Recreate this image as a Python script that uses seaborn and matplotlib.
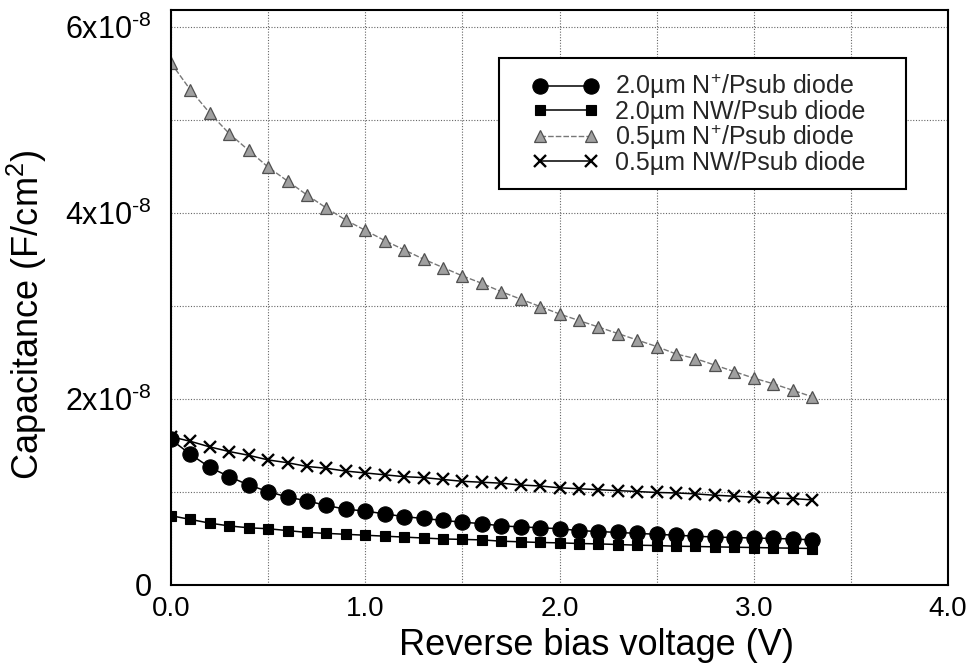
import numpy as np
import pandas as pd
import matplotlib
matplotlib.use("Agg")
import matplotlib.pyplot as plt
from matplotlib.ticker import MultipleLocator, FuncFormatter
from matplotlib.legend_handler import HandlerLine2D
import seaborn as sns

# Reverse bias sweep (V)
voltage = [round(0.1 * i, 1) for i in range(34)]

# Junction capacitance per unit area, in units of 1e-8 F/cm^2
n_plus_20 = [1.56, 1.40, 1.26, 1.16, 1.07, 1.00, 0.94, 0.90, 0.85, 0.81,
             0.79, 0.76, 0.73, 0.71, 0.69, 0.67, 0.655, 0.63, 0.62, 0.61,
             0.60, 0.58, 0.57, 0.56, 0.55, 0.54, 0.53, 0.52, 0.51, 0.505,
             0.50, 0.495, 0.49, 0.48]
nw_20 = [0.74, 0.70, 0.66, 0.63, 0.61, 0.60, 0.58, 0.56, 0.55, 0.54,
         0.53, 0.52, 0.51, 0.50, 0.49, 0.485, 0.48, 0.466, 0.459, 0.452,
         0.448, 0.441, 0.437, 0.430, 0.423, 0.419, 0.412, 0.409, 0.405, 0.401,
         0.398, 0.394, 0.391, 0.387]
n_plus_05 = [5.61, 5.32, 5.07, 4.85, 4.67, 4.49, 4.34, 4.19, 4.05, 3.92,
             3.81, 3.70, 3.60, 3.50, 3.41, 3.32, 3.24, 3.15, 3.07, 2.99,
             2.91, 2.84, 2.77, 2.70, 2.63, 2.56, 2.48, 2.43, 2.36, 2.29,
             2.22, 2.16, 2.09, 2.02]
nw_05 = [1.59, 1.54, 1.48, 1.43, 1.39, 1.34, 1.31, 1.27, 1.25, 1.22,
         1.20, 1.18, 1.16, 1.15, 1.13, 1.11, 1.10, 1.09, 1.07, 1.06,
         1.04, 1.03, 1.02, 1.01, 1.00, 0.99, 0.985, 0.975, 0.96, 0.95,
         0.94, 0.93, 0.925, 0.91]

series_labels = [r"2.0µm N$^{+}$/Psub diode",
                 "2.0µm NW/Psub diode",
                 r"0.5µm N$^{+}$/Psub diode",
                 "0.5µm NW/Psub diode"]

x_tick_labels = ["0.0", "1.0", "2.0", "3.0", "4.0"]

sns.set_theme(style="white")
plt.rcParams["font.family"] = ["Liberation Sans", "DejaVu Sans"]
plt.rcParams["mathtext.fontset"] = "custom"
plt.rcParams["mathtext.rm"] = "Liberation Sans"
plt.rcParams["mathtext.it"] = "Liberation Sans:italic"
plt.rcParams["mathtext.bf"] = "Liberation Sans:bold"

scale = 1e-8
df = pd.DataFrame({
    "V": voltage,
    "n_plus_20": np.array(n_plus_20) * scale,
    "nw_20": np.array(nw_20) * scale,
    "n_plus_05": np.array(n_plus_05) * scale,
    "nw_05": np.array(nw_05) * scale,
})

fig = plt.figure(figsize=(9.72, 6.66), dpi=100)
ax = fig.add_axes([171 / 972, 1 - 584.5 / 666, 777 / 972, 574.5 / 666])

styles = [
    ("n_plus_20", dict(color="black", marker="o", markersize=11, linewidth=1.1,
                       markeredgecolor="black", markeredgewidth=0.8)),
    ("nw_20", dict(color="black", marker="s", markersize=7.5, linewidth=1.1,
                   markeredgecolor="black", markeredgewidth=0.8)),
    ("n_plus_05", dict(color="#777777", marker="^", markersize=9, linewidth=1.0,
                       linestyle=(0, (4, 1.5)), markerfacecolor="#a0a0a0",
                       markeredgecolor="#505050", markeredgewidth=0.9)),
    ("nw_05", dict(color="black", marker="x", markersize=8.5, linewidth=1.1,
                   markeredgecolor="black", markeredgewidth=1.7)),
]

for (col, kw), label in zip(styles, series_labels):
    sns.lineplot(data=df, x="V", y=col, ax=ax, label=label, sort=False, **kw)

ax.set_xlim(0, 4.0)
ax.set_ylim(0, 6.18e-8)

ax.set_xticks([0, 1, 2, 3, 4])
ax.set_xticklabels(x_tick_labels)
ax.xaxis.set_minor_locator(MultipleLocator(0.5))
ax.yaxis.set_major_locator(MultipleLocator(2e-8))
ax.yaxis.set_minor_locator(MultipleLocator(1e-8))


def cap_fmt(v, pos):
    n = int(round(v / scale))
    return "0" if n == 0 else rf"{n}x10$^{{\text{{-}}8}}$"


ax.yaxis.set_major_formatter(FuncFormatter(cap_fmt))

ax.grid(True, which="both", linestyle=(0, (1, 1.5)), color="#666666", linewidth=0.8)
ax.tick_params(axis="both", which="both", length=0, colors="black")
ax.tick_params(axis="y", pad=14, labelsize=22)
ax.tick_params(axis="x", pad=8, labelsize=20)

for s in ax.spines.values():
    s.set_visible(True)
    s.set_color("black")
    s.set_linewidth(1.5)

ax.set_xlabel("Reverse bias voltage (V)", fontsize=26, color="black")
ax.xaxis.set_label_coords(0.547, -0.076)
ax.set_ylabel(r"Capacitance (F/cm$^{2}$)", fontsize=26, color="black")
ax.yaxis.set_label_coords(-0.157, 0.47)

fs = 18
leg = ax.legend(loc="upper left", bbox_to_anchor=(0.422, 0.916, 0.524, 0.0),
                mode="expand", borderaxespad=0,
                fontsize=fs, numpoints=2, handlelength=3.45, handletextpad=0.65,
                labelspacing=-0.05, borderpad=0.55, frameon=True, fancybox=False,
                framealpha=1, edgecolor="black",
                handler_map={matplotlib.lines.Line2D: HandlerLine2D(numpoints=2, xpad=0.8)})
leg.get_frame().set_linewidth(1.5)

fig.savefig("out.png", dpi=100, facecolor="white")
